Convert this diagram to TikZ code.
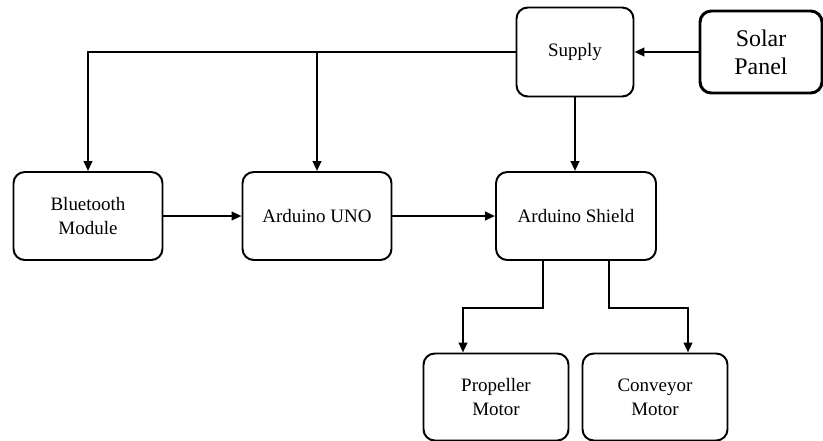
\documentclass[tikz,border=0pt]{standalone}
\usepackage{fontspec}
\setmainfont{Liberation Serif}
\usetikzlibrary{arrows.meta,positioning,calc}
\newdimen\pxu \pxu=0.025cm
\tikzset{>={Triangle[length=7pt,width=6pt]},
  box/.style={draw,rounded corners=8pt,line width=1.4pt,align=center,inner sep=0pt,
    font=\fontsize{13.5}{17}\selectfont},
  link/.style={->,line width=1.5pt}}
\begin{document}
\begin{tikzpicture}[x=\pxu,y=-\pxu]
\useasboundingbox (0,0) rectangle (823,441);
% power side
\node[box,minimum width=117*\pxu,minimum height=89*\pxu] (sup) at (575,52) {Supply};
\node[box,line width=2.1pt,minimum width=122*\pxu,minimum height=82*\pxu,
  font=\fontsize{17}{20}\selectfont] (sol) at (761,52) {Solar\\Panel};
% control row
\node[box,minimum width=149*\pxu,minimum height=88*\pxu] (bt) at (88,216) {Bluetooth\\Module};
\node[box,minimum width=149*\pxu,minimum height=88*\pxu] (uno) at (317,216) {Arduino UNO};
\node[box,minimum width=160*\pxu,minimum height=88*\pxu] (sh) at (576,216) {Arduino Shield};
% motors
\node[box,minimum width=145*\pxu,minimum height=87*\pxu] (pm) at (496,397) {Propeller\\Motor};
\node[box,minimum width=145*\pxu,minimum height=87*\pxu] (cv) at (655,397) {Conveyor\\Motor};
% connectors
\draw[link] (sol.west) -- (sup.east);
\draw[link] (sup.west) -| (bt.north);
\draw[link] (sup.west -| uno.north) -- (uno.north);
\draw[link] (sup.south) -- (sup.south |- sh.north);
\draw[link] (bt.east) -- (uno.west);
\draw[link] (uno.east) -- (sh.west);
\draw[link] ([xshift=-33*\pxu]sh.south) -- ++(0,47) -| ([xshift=-33*\pxu]pm.north);
\draw[link] ([xshift=33*\pxu]sh.south) -- ++(0,47) -| ([xshift=33*\pxu]cv.north);
\end{tikzpicture}
\end{document}
